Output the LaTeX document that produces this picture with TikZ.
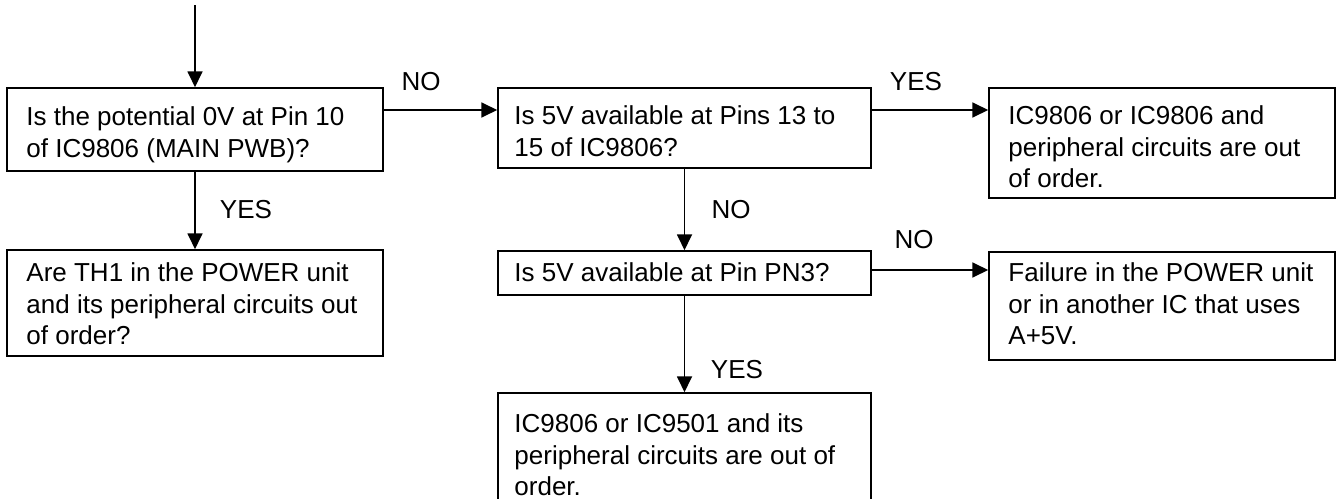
\documentclass[tikz,border=0pt]{standalone}
\usepackage{fontspec}
\setmainfont{Liberation Sans}
\usetikzlibrary{arrows.meta}
\begin{document}
\begin{tikzpicture}[x=1pt,y=-1pt,
  every node/.style={font=\fontsize{26pt}{31.7pt}\selectfont},
  fbox/.style={draw, line width=1.5pt, rectangle, inner sep=0pt},
  ftext/.style={anchor=west, align=left, inner sep=0pt},
  arr/.style={line width=1.8pt, -{Triangle[length=16pt,width=15pt]}},
  lbl/.style={inner sep=0pt}]
\useasboundingbox (0,0) rectangle (1336,498);
\clip (0,0) rectangle (1336,498);
\node[fbox, minimum width=376pt, minimum height=83pt] (b1) at (195,129.5) {};
\node[fbox, minimum width=373pt, minimum height=80pt] (b2) at (684.5,128) {};
\node[fbox, minimum width=346pt, minimum height=110pt] (b3) at (1162,143) {};
\node[fbox, minimum width=376pt, minimum height=106pt] (b4) at (195,303) {};
\node[fbox, minimum width=373pt, minimum height=44pt] (b5) at (684.5,273) {};
\node[fbox, minimum width=346pt, minimum height=108pt] (b6) at (1162,306) {};
\node[fbox, minimum width=373pt, minimum height=134pt] (b7) at (684.5,460) {};
\node[ftext] (t1) at ([xshift=20pt,yshift=-5pt]b1.west)
  {Is the potential 0V at Pin 10\\of IC9806 (MAIN PWB)?};
\node[ftext] (t2) at ([xshift=17pt,yshift=-3pt]b2.west)
  {Is 5V available at Pins 13 to\\15 of IC9806?};
\node[ftext] (t3) at ([xshift=20pt,yshift=-4pt]b3.west)
  {IC9806 or IC9806 and\\peripheral circuits are out\\of order.};
\node[ftext] (t4) at ([xshift=20pt,yshift=-1pt]b4.west)
  {Are TH1 in the POWER unit\\and its peripheral circuits out\\of order?};
\node[ftext] (t5) at ([xshift=17pt,yshift=1pt]b5.west)
  {Is 5V available at Pin PN3?};
\node[ftext] (t6) at ([xshift=20pt,yshift=2pt]b6.west)
  {Failure in the POWER unit\\or in another IC that uses\\A+5V.};
\node[ftext] (t7) at ([xshift=17pt,yshift=5pt]b7.west)
  {IC9806 or IC9501 and its\\peripheral circuits are out of\\order.};
\coordinate (start) at (195,5);
\draw[arr] (start) -- (b1.north);
\draw[arr] (b1.east |- 0,110) -- (b2.west |- 0,110);
\draw[arr] (b2.east |- 0,110) -- (b3.west |- 0,110);
\draw[arr] (b1.south) -- (b4.north);
\draw[arr] (b2.south) -- (b5.north);
\draw[arr] (b5.east |- 0,270) -- (b6.west |- 0,270);
\draw[arr] (b5.south) -- (b7.north);
\node[lbl] (l1) at (421,82) {NO};
\node[lbl] (l2) at (916,82) {YES};
\node[lbl] (l3) at (246,210) {YES};
\node[lbl] (l4) at (731,210) {NO};
\node[lbl] (l5) at (914,240) {NO};
\node[lbl] (l6) at (737,370) {YES};
\end{tikzpicture}
\end{document}
